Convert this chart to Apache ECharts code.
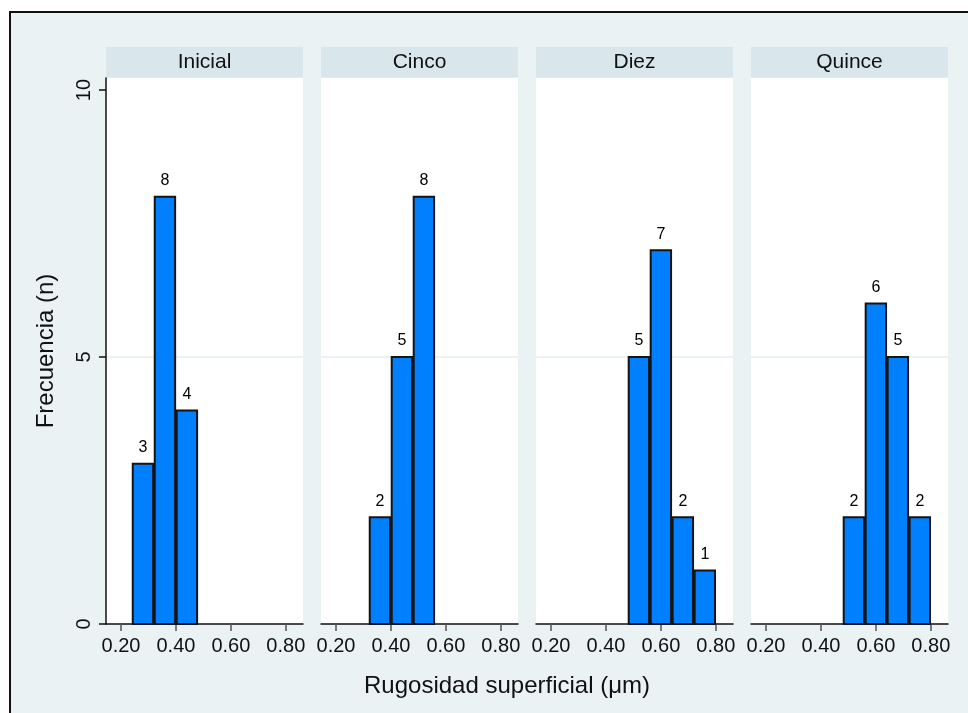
<!DOCTYPE html>
<html><head><meta charset="utf-8">
<script src="https://cdn.jsdelivr.net/npm/echarts@6/dist/echarts.min.js"></script>
<style>html,body{margin:0;padding:0;background:#fff}#c{width:968px;height:713px}</style>
</head><body><div id="c"></div>
<script>
// ---- data ----
const panels = ['Inicial', 'Cinco', 'Diez', 'Quince'];
const binWidth = 0.08;
const binStartsInicial = [0.24, 0.32, 0.40];
const countsInicial = [3, 8, 4];
const binStartsCinco = [0.32, 0.40, 0.48];
const countsCinco = [2, 5, 8];
const binStartsDiez = [0.48, 0.56, 0.64, 0.72];
const countsDiez = [5, 7, 2, 1];
const binStartsQuince = [0.48, 0.56, 0.64, 0.72];
const countsQuince = [2, 6, 5, 2];
const xTicks = [0.20, 0.40, 0.60, 0.80];
const yTicks = [0, 5, 10];
const xTitle = 'Rugosidad superficial (μm)';
const yTitle = 'Frecuencia (n)';

const binStarts = [binStartsInicial, binStartsCinco, binStartsDiez, binStartsQuince];
const counts = [countsInicial, countsCinco, countsDiez, countsQuince];

// ---- layout ----
const FONT = '"Liberation Sans", Arial, sans-serif';
const gridLefts = [106, 321, 536, 751];
const gridW = 197;
const gridTop = 78;
const gridH = 546;
const xMin = 0.1455, xMax = 0.8625;
const yMax = 10.225;
const barInset = 0.8;

const chart = echarts.init(document.getElementById('c'), null, {renderer: 'canvas'});

function renderItem(params, api) {
  const x0 = api.value(0), c = api.value(1);
  const p0 = api.coord([x0, 0]);
  const p1 = api.coord([x0 + binWidth, c]);
  return {
    type: 'group',
    children: [{
      type: 'rect',
      shape: {x: p0[0] + barInset, y: p1[1], width: p1[0] - p0[0] - 2 * barInset, height: p0[1] - p1[1]},
      style: {fill: '#0080FF', stroke: '#141414', lineWidth: 2}
    }, {
      type: 'text',
      x: (p0[0] + p1[0]) / 2, y: p1[1] - 8,
      style: {text: String(c), fill: '#000', font: '16px ' + FONT, textAlign: 'center', textVerticalAlign: 'bottom'}
    }]
  };
}

const grids = [], xAxes = [], yAxes = [], series = [], graphics = [];

// outer frame
graphics.push({type: 'rect', shape: {x: 0, y: 0, width: 968, height: 12}, style: {fill: '#fff'}, silent: true});
graphics.push({type: 'rect', shape: {x: 0, y: 0, width: 10, height: 713}, style: {fill: '#fff'}, silent: true});
graphics.push({type: 'rect', shape: {x: 10, y: 12, width: 1000, height: 800}, style: {fill: null, stroke: '#111', lineWidth: 2}, silent: true});

panels.forEach((name, i) => {
  grids.push({left: gridLefts[i], top: gridTop, width: gridW, height: gridH, show: true,
    backgroundColor: '#fff', borderWidth: 0, containLabel: false});
  xAxes.push({
    type: 'value', gridIndex: i, min: xMin, max: xMax,
    axisLine: {show: true, onZero: false, lineStyle: {color: '#111', width: 1.5}},
    axisTick: {show: true, length: 7, inside: false, customValues: xTicks, lineStyle: {color: '#555', width: 1.5}},
    axisLabel: {show: true, customValues: xTicks, margin: 12, color: '#111', fontSize: 20, fontFamily: FONT,
      formatter: v => v.toFixed(2)},
    splitLine: {show: false}
  });
  yAxes.push({
    type: 'value', gridIndex: i, min: 0, max: yMax, interval: 5,
    name: i === 0 ? yTitle : '', nameLocation: 'middle', nameRotate: 90, nameGap: 48,
    nameTextStyle: {fontSize: 24, fontFamily: FONT, color: '#111'},
    axisLine: {show: i === 0, lineStyle: {color: '#111', width: 1.5}},
    axisTick: {show: i === 0, length: 7, customValues: yTicks, lineStyle: {color: '#111', width: 1.5}},
    axisLabel: {show: i === 0, customValues: yTicks, rotate: 90, margin: 12, color: '#111', fontSize: 20, fontFamily: FONT},
    splitLine: {show: true, showMinLine: false, showMaxLine: false, lineStyle: {color: '#E4EEF1', width: 1.5}}
  });
  series.push({
    type: 'custom', xAxisIndex: i, yAxisIndex: i, renderItem: renderItem,
    encode: {x: 0, y: 1},
    data: binStarts[i].map((b, k) => [b, counts[i][k]]),
    z: 3
  });
  graphics.push({type: 'rect', shape: {x: gridLefts[i], y: 47, width: gridW, height: 30.5},
    style: {fill: '#D9E6EB'}, silent: true});
  graphics.push({type: 'text', x: gridLefts[i] + gridW / 2, y: 62,
    style: {text: name, textAlign: 'center', textVerticalAlign: 'middle', font: '21px ' + FONT, fill: '#111'}, silent: true});
});

graphics.push({type: 'text', x: 507, y: 686,
  style: {text: xTitle, textAlign: 'center', textVerticalAlign: 'middle', font: '24px ' + FONT, fill: '#111'}, silent: true});

chart.setOption({
  backgroundColor: '#EAF2F3',
  animation: false,
  grid: grids,
  xAxis: xAxes,
  yAxis: yAxes,
  series: series,
  graphic: {elements: graphics}
});
</script></body></html>
